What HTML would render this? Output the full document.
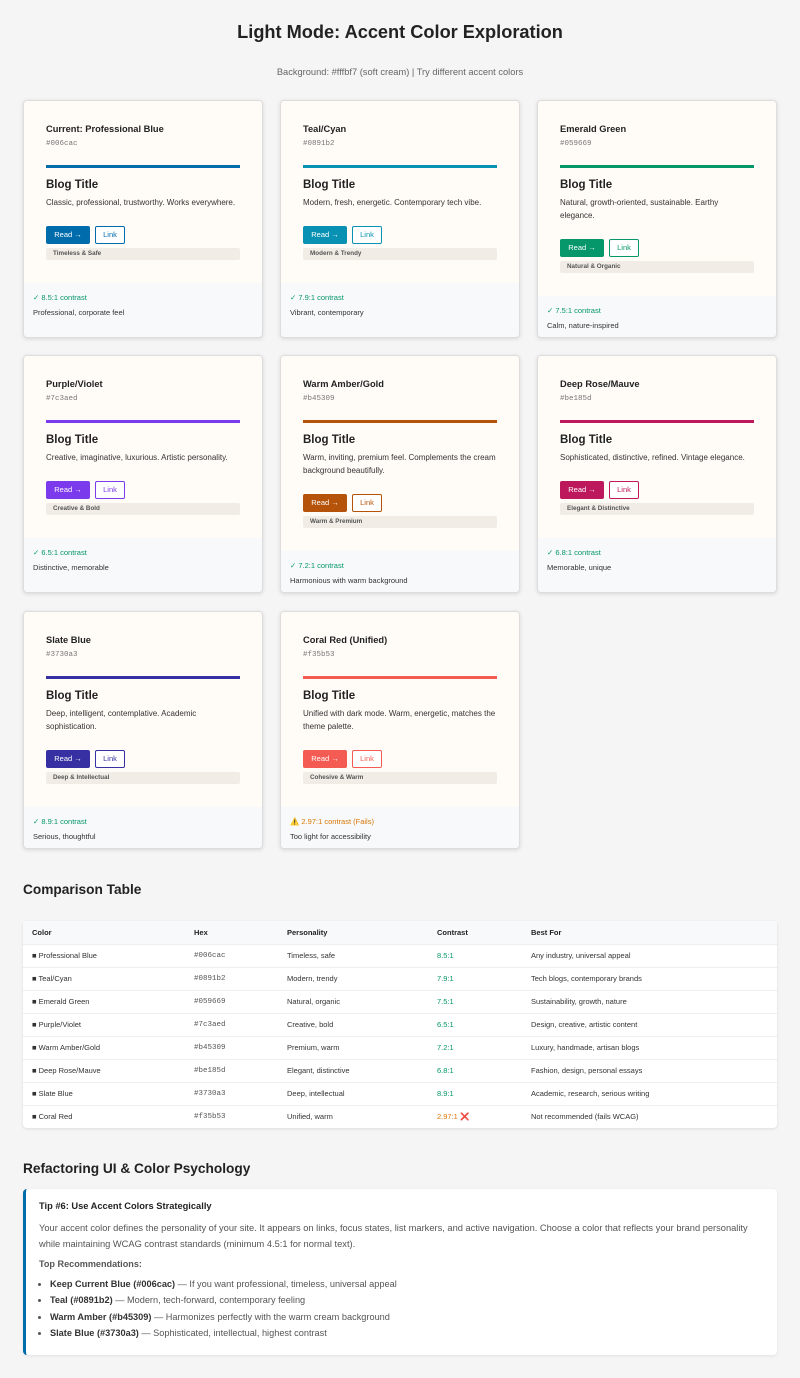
<!DOCTYPE html>
<html><head><meta charset="utf-8"><style>
*{box-sizing:border-box;margin:0;padding:0}
body{width:800px;height:1378px;background:#f5f5f5;font-family:"Liberation Sans",sans-serif;color:#222;position:relative;overflow:hidden}
.abs{position:absolute}
h1{position:absolute;top:22px;left:0;width:800px;text-align:center;font-size:18.2px;font-weight:bold;color:#222}
.sub{top:67px;left:0;width:800px;text-align:center;font-size:9.3px;color:#666}
.card{position:absolute;width:240px;background:#f8f9fa;border:1px solid #ddd;border-radius:4px;box-shadow:0 1px 4px rgba(0,0,0,.12);overflow:hidden}
.body{background:#fffcf7;padding:22px 22px 23px 22px}
.ct{font-size:9.3px;font-weight:bold;color:#222;line-height:12px}
.hx{font-family:"Liberation Mono",monospace;font-size:7.5px;color:#777;margin-top:4px;line-height:10px}
.bar{height:3px;margin-top:16px}
.bt{font-size:11.5px;font-weight:bold;margin-top:10px;line-height:14px}
.ds{font-size:8px;color:#333;line-height:13px;margin-top:4px;height:13px;white-space:nowrap}
.ds.two{height:26px;white-space:normal}
.btns{margin-top:16.5px;display:flex;gap:5px;height:18px}
.b1{width:44px;height:18px;border-radius:2px;color:#fff;font-size:7.5px;line-height:18px;text-align:center}
.b2{width:30px;height:18px;border-radius:2px;border:1.5px solid;font-size:7.5px;line-height:15px;text-align:center;background:#fff}
.tag{margin-top:4px;background:#f1ece6;font-size:6.3px;font-weight:bold;color:#555;padding:0 7px;height:12px;line-height:12px;border-radius:2px}
.ft{padding:7.5px 9px 0 9px;font-size:7.5px;line-height:15px}
.ok{color:#059669}
.ft p{color:#333}
h2{position:absolute;left:23px;font-size:13.7px;font-weight:bold;color:#222}
table{position:absolute;top:921px;left:23px;width:754px;border-collapse:collapse;background:#fff;box-shadow:0 1px 3px rgba(0,0,0,.1);font-size:7.5px;color:#333;border-radius:4px}
th{text-align:left;font-weight:bold;background:#f8f9fa;height:23px;padding-left:9px;color:#222}
td{height:23px;padding-left:9px;border-top:1px solid #eee}
.m{font-family:"Liberation Mono",monospace;color:#555}
.tip{position:absolute;top:1189px;left:23px;width:754px;height:166px;background:#fff;border-left:3px solid #006cac;border-radius:4px;padding:12px 14px 12px 13px;box-shadow:0 1px 3px rgba(0,0,0,.08)}
.tip h3{font-size:9.3px;font-weight:bold;color:#222}
.tip p{font-size:9.3px;color:#555;line-height:16px;margin-top:9px}
.tip h4{font-size:9.1px;color:#555;margin-top:7px}
.tip ul{margin-top:7px;padding-left:11px;font-size:9.2px;color:#555;line-height:16.3px}
.tip b{color:#333}
</style></head><body>
<h1>Light Mode: Accent Color Exploration</h1>
<div class="abs sub">Background: #fffbf7 (soft cream) | Try different accent colors</div>

<div class="card" style="left:23px;top:100px;height:238px"><div class="body">
<div class="ct">Current: Professional Blue</div><div class="hx">#006cac</div><div class="bar" style="background:#006cac"></div>
<div class="bt">Blog Title</div><div class="ds">Classic, professional, trustworthy. Works everywhere.</div>
<div class="btns"><div class="b1" style="background:#006cac">Read →</div><div class="b2" style="color:#006cac;border-color:#006cac">Link</div></div>
<div class="tag">Timeless &amp; Safe</div></div>
<div class="ft"><div class="ok">✓ 8.5:1 contrast</div><p>Professional, corporate feel</p></div></div>

<div class="card" style="left:280px;top:100px;height:238px"><div class="body">
<div class="ct">Teal/Cyan</div><div class="hx">#0891b2</div><div class="bar" style="background:#0891b2"></div>
<div class="bt">Blog Title</div><div class="ds">Modern, fresh, energetic. Contemporary tech vibe.</div>
<div class="btns"><div class="b1" style="background:#0891b2">Read →</div><div class="b2" style="color:#0891b2;border-color:#0891b2">Link</div></div>
<div class="tag">Modern &amp; Trendy</div></div>
<div class="ft"><div class="ok">✓ 7.9:1 contrast</div><p>Vibrant, contemporary</p></div></div>

<div class="card" style="left:537px;top:100px;height:238px"><div class="body">
<div class="ct">Emerald Green</div><div class="hx">#059669</div><div class="bar" style="background:#059669"></div>
<div class="bt">Blog Title</div><div class="ds two">Natural, growth-oriented, sustainable. Earthy elegance.</div>
<div class="btns"><div class="b1" style="background:#059669">Read →</div><div class="b2" style="color:#059669;border-color:#059669">Link</div></div>
<div class="tag">Natural &amp; Organic</div></div>
<div class="ft"><div class="ok">✓ 7.5:1 contrast</div><p>Calm, nature-inspired</p></div></div>

<div class="card" style="left:23px;top:355px;height:238px"><div class="body">
<div class="ct">Purple/Violet</div><div class="hx">#7c3aed</div><div class="bar" style="background:#7c3aed"></div>
<div class="bt">Blog Title</div><div class="ds">Creative, imaginative, luxurious. Artistic personality.</div>
<div class="btns"><div class="b1" style="background:#7c3aed">Read →</div><div class="b2" style="color:#7c3aed;border-color:#7c3aed">Link</div></div>
<div class="tag">Creative &amp; Bold</div></div>
<div class="ft"><div class="ok">✓ 6.5:1 contrast</div><p>Distinctive, memorable</p></div></div>

<div class="card" style="left:280px;top:355px;height:238px"><div class="body">
<div class="ct">Warm Amber/Gold</div><div class="hx">#b45309</div><div class="bar" style="background:#b45309"></div>
<div class="bt">Blog Title</div><div class="ds two">Warm, inviting, premium feel. Complements the cream background beautifully.</div>
<div class="btns"><div class="b1" style="background:#b45309">Read →</div><div class="b2" style="color:#b45309;border-color:#b45309">Link</div></div>
<div class="tag">Warm &amp; Premium</div></div>
<div class="ft"><div class="ok">✓ 7.2:1 contrast</div><p>Harmonious with warm background</p></div></div>

<div class="card" style="left:537px;top:355px;height:238px"><div class="body">
<div class="ct">Deep Rose/Mauve</div><div class="hx">#be185d</div><div class="bar" style="background:#be185d"></div>
<div class="bt">Blog Title</div><div class="ds">Sophisticated, distinctive, refined. Vintage elegance.</div>
<div class="btns"><div class="b1" style="background:#be185d">Read →</div><div class="b2" style="color:#be185d;border-color:#be185d">Link</div></div>
<div class="tag">Elegant &amp; Distinctive</div></div>
<div class="ft"><div class="ok">✓ 6.8:1 contrast</div><p>Memorable, unique</p></div></div>

<div class="card" style="left:23px;top:611px;height:238px"><div class="body">
<div class="ct">Slate Blue</div><div class="hx">#3730a3</div><div class="bar" style="background:#3730a3"></div>
<div class="bt">Blog Title</div><div class="ds two">Deep, intelligent, contemplative. Academic sophistication.</div>
<div class="btns"><div class="b1" style="background:#3730a3">Read →</div><div class="b2" style="color:#3730a3;border-color:#3730a3">Link</div></div>
<div class="tag">Deep &amp; Intellectual</div></div>
<div class="ft"><div class="ok">✓ 8.9:1 contrast</div><p>Serious, thoughtful</p></div></div>

<div class="card" style="left:280px;top:611px;height:238px"><div class="body">
<div class="ct">Coral Red (Unified)</div><div class="hx">#f35b53</div><div class="bar" style="background:#f35b53"></div>
<div class="bt">Blog Title</div><div class="ds two">Unified with dark mode. Warm, energetic, matches the theme palette.</div>
<div class="btns"><div class="b1" style="background:#f35b53">Read →</div><div class="b2" style="color:#f35b53;border-color:#f35b53">Link</div></div>
<div class="tag">Cohesive &amp; Warm</div></div>
<div class="ft"><div style="color:#d97706">⚠️ 2.97:1 contrast (Fails)</div><p>Too light for accessibility</p></div></div>

<h2 style="top:882px">Comparison Table</h2>
<table>
<tr><th style="width:162px">Color</th><th style="width:93px">Hex</th><th style="width:150px">Personality</th><th style="width:94px">Contrast</th><th>Best For</th></tr>
<tr><td>■ Professional Blue</td><td class="m">#006cac</td><td>Timeless, safe</td><td class="ok">8.5:1</td><td>Any industry, universal appeal</td></tr>
<tr><td>■ Teal/Cyan</td><td class="m">#0891b2</td><td>Modern, trendy</td><td class="ok">7.9:1</td><td>Tech blogs, contemporary brands</td></tr>
<tr><td>■ Emerald Green</td><td class="m">#059669</td><td>Natural, organic</td><td class="ok">7.5:1</td><td>Sustainability, growth, nature</td></tr>
<tr><td>■ Purple/Violet</td><td class="m">#7c3aed</td><td>Creative, bold</td><td class="ok">6.5:1</td><td>Design, creative, artistic content</td></tr>
<tr><td>■ Warm Amber/Gold</td><td class="m">#b45309</td><td>Premium, warm</td><td class="ok">7.2:1</td><td>Luxury, handmade, artisan blogs</td></tr>
<tr><td>■ Deep Rose/Mauve</td><td class="m">#be185d</td><td>Elegant, distinctive</td><td class="ok">6.8:1</td><td>Fashion, design, personal essays</td></tr>
<tr><td>■ Slate Blue</td><td class="m">#3730a3</td><td>Deep, intellectual</td><td class="ok">8.9:1</td><td>Academic, research, serious writing</td></tr>
<tr><td>■ Coral Red</td><td class="m">#f35b53</td><td>Unified, warm</td><td style="color:#d97706">2.97:1 <span style="color:#e0312a">❌</span></td><td>Not recommended (fails WCAG)</td></tr>
</table>

<h2 style="top:1161px">Refactoring UI &amp; Color Psychology</h2>
<div class="tip">
<h3>Tip #6: Use Accent Colors Strategically</h3>
<p>Your accent color defines the personality of your site. It appears on links, focus states, list markers, and active navigation. Choose a color that reflects your brand personality while maintaining WCAG contrast standards (minimum 4.5:1 for normal text).</p>
<h4>Top Recommendations:</h4>
<ul>
<li><b>Keep Current Blue (#006cac)</b> — If you want professional, timeless, universal appeal</li>
<li><b>Teal (#0891b2)</b> — Modern, tech-forward, contemporary feeling</li>
<li><b>Warm Amber (#b45309)</b> — Harmonizes perfectly with the warm cream background</li>
<li><b>Slate Blue (#3730a3)</b> — Sophisticated, intellectual, highest contrast</li>
</ul>
</div>
</body></html>
